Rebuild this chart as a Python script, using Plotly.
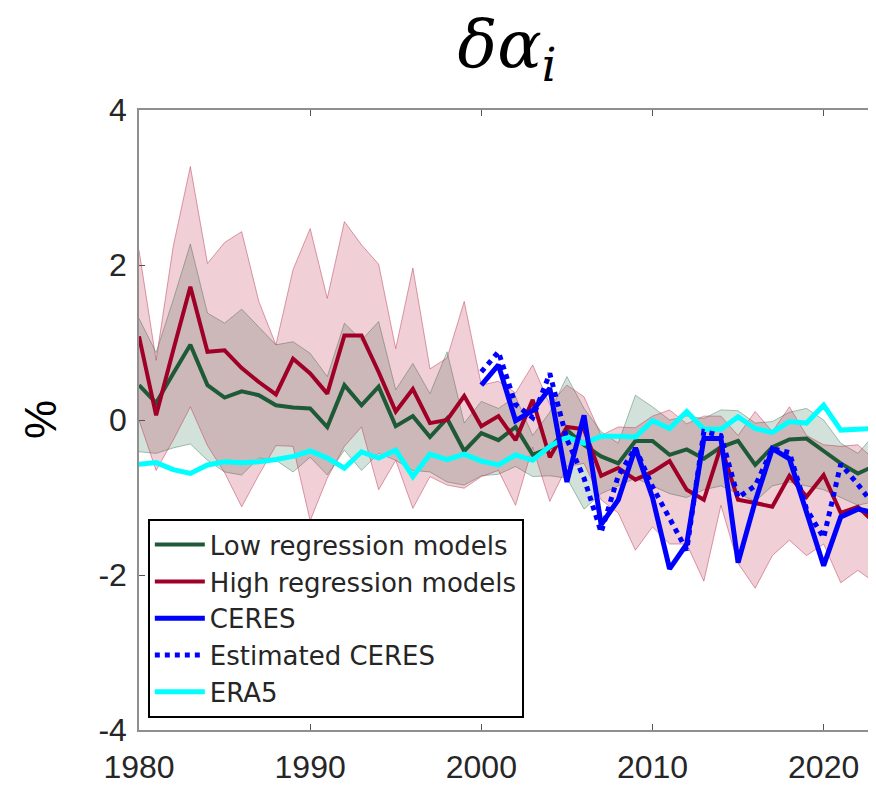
import plotly.graph_objects as go

years = list(range(1980, 2024))

low_mean = [0.45, 0.22, 0.60, 0.97, 0.45, 0.29, 0.37, 0.32, 0.19, 0.16,
            0.15, -0.09, 0.45, 0.19, 0.43, -0.08, 0.05, -0.22, 0.02, -0.40,
            -0.17, -0.26, -0.09, -0.45, -0.36, -0.13, -0.32, -0.47, -0.56, -0.27,
            -0.27, -0.45, -0.38, -0.50, -0.35, -0.27, -0.58, -0.35, -0.25, -0.24,
            -0.40, -0.56, -0.69, -0.59]
low_upper = [1.31, 0.87, 1.55, 2.27, 1.38, 1.25, 1.43, 1.20, 0.97, 1.01,
             0.86, 0.56, 1.25, 1.03, 1.27, 0.39, 0.73, 0.34, 0.88, -0.04,
             0.24, 0.15, 0.30, -0.20, 0.10, 0.56, 0.15, -0.15, -0.30, 0.32,
             0.17, 0.00, 0.05, 0.02, 0.13, 0.12, -0.04, -0.02, 0.10, 0.15,
             0.00, -0.30, -0.43, -0.18]
low_lower = [-0.41, -0.43, -0.36, -0.31, -0.52, -0.67, -0.71, -0.49, -0.52, -0.67,
             -0.48, -0.71, -0.39, -0.65, -0.43, -0.52, -0.65, -0.67, -0.80, -0.84,
             -0.72, -0.70, -0.60, -0.73, -0.72, -0.75, -1.15, -0.95, -0.85, -0.75,
             -0.85, -0.95, -1.00, -0.90, -0.85, -0.95, -1.05, -0.85, -0.80, -0.85,
             -0.90, -1.00, -1.10, -1.05]

high_mean = [1.08, 0.06, 0.90, 1.72, 0.88, 0.90, 0.67, 0.49, 0.33, 0.79,
             0.60, 0.34, 1.09, 1.09, 0.62, 0.11, 0.40, -0.04, 0.00, 0.31,
             -0.08, 0.05, -0.26, 0.26, -0.48, -0.09, -0.12, -0.72, -0.62, -0.77,
             -0.67, -0.53, -0.90, -1.03, -0.34, -1.03, -1.07, -1.12, -0.72, -0.99,
             -0.71, -1.20, -1.12, -1.33]
high_upper = [2.19, 0.77, 2.24, 3.27, 2.02, 2.29, 2.43, 1.53, 0.97, 1.94,
              2.47, 1.57, 2.56, 2.26, 2.01, 0.92, 1.96, 0.66, 0.80, 1.53,
              0.45, 0.50, 0.35, 0.71, 0.20, 0.45, 0.30, -0.20, -0.09, -0.10,
              0.05, 0.13, -0.05, 0.05, 0.05, -0.20, 0.11, -0.15, 0.17, -0.20,
              -0.32, -0.34, -0.32, -0.52]
high_lower = [0.00, -0.65, -0.26, 0.17, -0.33, -0.68, -1.12, -0.71, -0.33, -0.34,
              -1.30, -0.75, -0.34, -0.09, -0.90, -0.52, -1.14, -0.73, -0.84, -0.88,
              -0.73, -0.65, -1.10, -0.35, -1.05, -0.60, -0.56, -1.03, -1.20, -1.68,
              -1.38, -1.60, -1.60, -2.08, -1.10, -1.85, -2.17, -1.75, -1.55, -1.75,
              -1.60, -2.10, -1.94, -2.10]

ceres_years = list(range(2000, 2024))
ceres = [0.45, 0.71, -0.01, 0.12, 0.41, -0.80, 0.06, -1.35, -1.03, -0.36,
         -1.00, -1.92, -1.60, -0.24, -0.24, -1.84, -1.05, -0.37, -0.50, -1.20,
         -1.88, -1.25, -1.15, -1.20]
ceres_est = [0.62, 0.88, 0.20, 0.03, 0.60, -0.25, -0.75, -1.45, -0.72, -0.36,
             -0.86, -1.26, -1.68, -0.15, -0.20, -1.00, -0.85, -0.37, -0.42, -1.15,
             -1.52, -0.57, -0.83, -1.12]

era5 = [-0.57, -0.55, -0.64, -0.69, -0.58, -0.54, -0.55, -0.54, -0.51, -0.47,
        -0.40, -0.49, -0.62, -0.41, -0.49, -0.39, -0.73, -0.44, -0.51, -0.44,
        -0.53, -0.58, -0.45, -0.52, -0.34, -0.22, -0.30, -0.21, -0.21, -0.22,
        -0.01, -0.11, 0.11, -0.12, -0.12, 0.04, -0.11, -0.16, -0.02, -0.04,
        0.19, -0.13, -0.12, -0.11]

x_ticks = [1980, 1990, 2000, 2010, 2020]
y_ticks = [-4, -2, 0, 2, 4]

GREEN = "rgb(30,90,55)"
RED = "rgb(160,0,40)"

fig = go.Figure()

# Shaded bands
fig.add_trace(go.Scatter(x=years + years[::-1], y=low_upper + low_lower[::-1],
                         fill="toself", fillcolor="rgba(30,110,70,0.2)",
                         line=dict(color="rgba(60,120,90,0.45)", width=1),
                         mode="lines", showlegend=False, hoverinfo="skip"))
fig.add_trace(go.Scatter(x=years + years[::-1], y=high_upper + high_lower[::-1],
                         fill="toself", fillcolor="rgba(180,20,50,0.2)",
                         line=dict(color="rgba(190,60,90,0.5)", width=1),
                         mode="lines", showlegend=False, hoverinfo="skip"))

fig.add_trace(go.Scatter(x=years, y=low_mean, mode="lines", name="Low regression models",
                         line=dict(color=GREEN, width=4), legendrank=1))
fig.add_trace(go.Scatter(x=years, y=high_mean, mode="lines", name="High regression models",
                         line=dict(color=RED, width=4), legendrank=2))
fig.add_trace(go.Scatter(x=years, y=era5, mode="lines", name="ERA5",
                         line=dict(color="#00FFFF", width=5), legendrank=5))
fig.add_trace(go.Scatter(x=ceres_years, y=ceres, mode="lines", name="CERES",
                         line=dict(color="#0000FF", width=5), legendrank=3))
fig.add_trace(go.Scatter(x=ceres_years, y=ceres_est, mode="lines", name="Estimated CERES",
                         line=dict(color="#0000FF", width=5, dash="dot"), legendrank=4))

axis_common = dict(
    showgrid=False, zeroline=False, showline=True, linecolor="#8f8f8f", linewidth=1.5,
    mirror="ticks", ticks="inside", ticklen=6, tickwidth=1.2, tickcolor="#555555",
    automargin=False,
    tickfont=dict(family="Liberation Sans, Arial, sans-serif", size=32, color="#262626"),
)

# The page body adds an 8px offset, so the figure is sized 8px smaller.
W, H = 868, 777

fig.update_layout(
    width=W, height=H,
    margin=dict(l=131, r=1, t=102, b=55, autoexpand=False),
    paper_bgcolor="white", plot_bgcolor="white",
    xaxis=dict(range=[1980, 2023], tickvals=x_ticks, ticktext=[str(v) for v in x_ticks],
               ticklabelstandoff=8, **axis_common),
    yaxis=dict(range=[-4, 4], tickvals=y_ticks, ticktext=[str(v) for v in y_ticks],
               ticklabelstandoff=4, **axis_common),
    title=dict(text="<i>δα</i><sub><i>i</i></sub>",
               font=dict(family="DejaVu Serif, Liberation Serif, serif", size=66, color="black"),
               xref="paper", x=0.5, xanchor="center",
               yref="container", y=1 - 36 / H, yanchor="middle"),
    legend=dict(x=0.012, y=0.34, xanchor="left", yanchor="top",
                bgcolor="white", bordercolor="black", borderwidth=2,
                font=dict(family="DejaVu Sans, sans-serif", size=26, color="#262626"),
                tracegroupgap=0, itemwidth=50),
    annotations=[dict(text="%", xref="paper", yref="paper", x=-0.1345, y=0.5,
                      xanchor="center", yanchor="middle", textangle=-90, showarrow=False,
                      font=dict(family="Liberation Sans, Arial, sans-serif", size=44, color="black"))],
    showlegend=True,
)

fig.write_html("out.html")
